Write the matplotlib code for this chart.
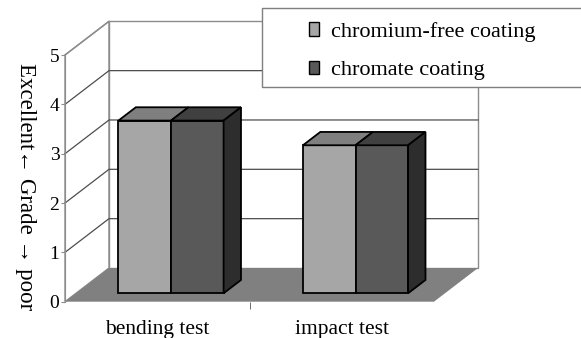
import matplotlib
matplotlib.use('Agg')
import matplotlib.pyplot as plt
from matplotlib.patches import Polygon, Rectangle, Patch

categories = ['bending test', 'impact test']
series_names = ['chromium-free coating', 'chromate coating']
chromium_free = [3.5, 3.0]
chromate = [3.5, 3.0]
grade_ticks = [0, 1, 2, 3, 4, 5]

plt.rcParams['font.family'] = ['Liberation Serif', 'DejaVu Serif']

front_colors = ['#a6a6a6', '#595959']
top_colors = ['#7f7f7f', '#404040']
side_color = '#2d2d2d'
wall_line = '#8c8c8c'
grid_line = '#4d4d4d'

# depth offset of the 3D box, in data units (x: categories, y: grade)
DX, DY = 0.2385, 0.683
# bars sit between these fractions of the depth
F0, F1 = 0.25, 0.645
BAR_W = 0.285
GROUP_OFF = 0.23

fig = plt.figure(figsize=(5.81, 3.38), dpi=100)
ax = fig.add_axes([65 / 581, 36.3 / 338, 369 / 581, 246.7 / 338])
ax.set_xlim(0, 2)
ax.set_ylim(0, 5)
ymax = grade_ticks[-1]
ncat = len(categories)

# walls
ax.add_patch(Polygon([(0, 0), (0, ymax), (DX, ymax + DY), (DX, DY)], closed=True,
                     facecolor='white', edgecolor=wall_line, lw=1, zorder=0, clip_on=False))
ax.add_patch(Rectangle((DX, DY), ncat, ymax, facecolor='white', edgecolor=wall_line,
                       lw=1, zorder=0, clip_on=False))

# gridlines on side and back wall
for v in grade_ticks[1:-1]:
    ax.plot([0, DX, ncat + DX], [v, v + DY, v + DY], color=grid_line, lw=0.9,
            zorder=1, clip_on=False)
ax.plot([0, DX], [ymax, ymax + DY], color=wall_line, lw=1, zorder=1, clip_on=False)

# floor
ax.add_patch(Polygon([(0, 0), (ncat, 0), (ncat + DX, DY), (DX, DY)], closed=True,
                     facecolor='#808080', edgecolor='none', zorder=1, clip_on=False))

# bars
series = [chromium_free, chromate]
d = F1 - F0
for j, vals in enumerate(series):
    xs = [i + GROUP_OFF + j * BAR_W + F0 * DX for i in range(ncat)]
    bottom = F0 * DY
    bars = ax.bar(xs, vals, width=BAR_W, bottom=bottom, align='edge',
                  color=front_colors[j], edgecolor='black', lw=1.3, zorder=3)
    for b in bars:
        b.set_clip_on(False)
    for x, v in zip(xs, vals):
        top = bottom + v
        ax.add_patch(Polygon([(x, top), (x + BAR_W, top), (x + BAR_W + d * DX, top + d * DY),
                              (x + d * DX, top + d * DY)], closed=True,
                             facecolor=top_colors[j], edgecolor='black', lw=1.3, zorder=3,
                             clip_on=False))
        if j == len(series) - 1:
            xr = x + BAR_W
            ax.add_patch(Polygon([(xr, bottom), (xr, top), (xr + d * DX, top + d * DY),
                                  (xr + d * DX, bottom + d * DY)], closed=True,
                                 facecolor=side_color, edgecolor='black', lw=1.3, zorder=3,
                                 clip_on=False))

# axes styling
for s in ['top', 'right', 'bottom']:
    ax.spines[s].set_visible(False)
ax.spines['left'].set_color(wall_line)
ax.spines['left'].set_zorder(2)
ax.set_yticks(grade_ticks)
ax.set_yticklabels([str(t) for t in grade_ticks], fontsize=14)
ax.tick_params(axis='y', length=3, color=wall_line, pad=1)
ax.set_xticks([i + 0.5 for i in range(ncat)])
ax.set_xticklabels(categories, fontsize=15.5)
ax.set_xticks(list(range(1, ncat)), minor=True)
ax.tick_params(axis='x', which='major', length=0, pad=13)
ax.tick_params(axis='x', which='minor', length=5, color='#555555')

fig.text(25 / 581, 1 - 187 / 338, 'Excellent\u2190 Grade \u2192 poor', rotation=-90,
         ha='center', va='center', fontsize=16.5)

# legend box (runs off the right edge)
box = Rectangle((261.5 / 581, 1 - 87.3 / 338), 0.7, 79.3 / 338, transform=fig.transFigure,
                facecolor='white', edgecolor='#7f7f7f', lw=1, zorder=5, clip_on=False)
fig.add_artist(box)
handles = [Patch(facecolor=front_colors[k], edgecolor='black', lw=1) for k in range(2)]
leg = fig.legend(handles, series_names, loc='upper left',
                 bbox_to_anchor=(309 / 581, 1 - 22 / 338), frameon=False, fontsize=16,
                 handlelength=0.45, handleheight=0.55, handletextpad=0.55,
                 labelspacing=0.85, borderpad=0, borderaxespad=0)
leg.set_zorder(6)

fig.savefig('out.png', dpi=100)
